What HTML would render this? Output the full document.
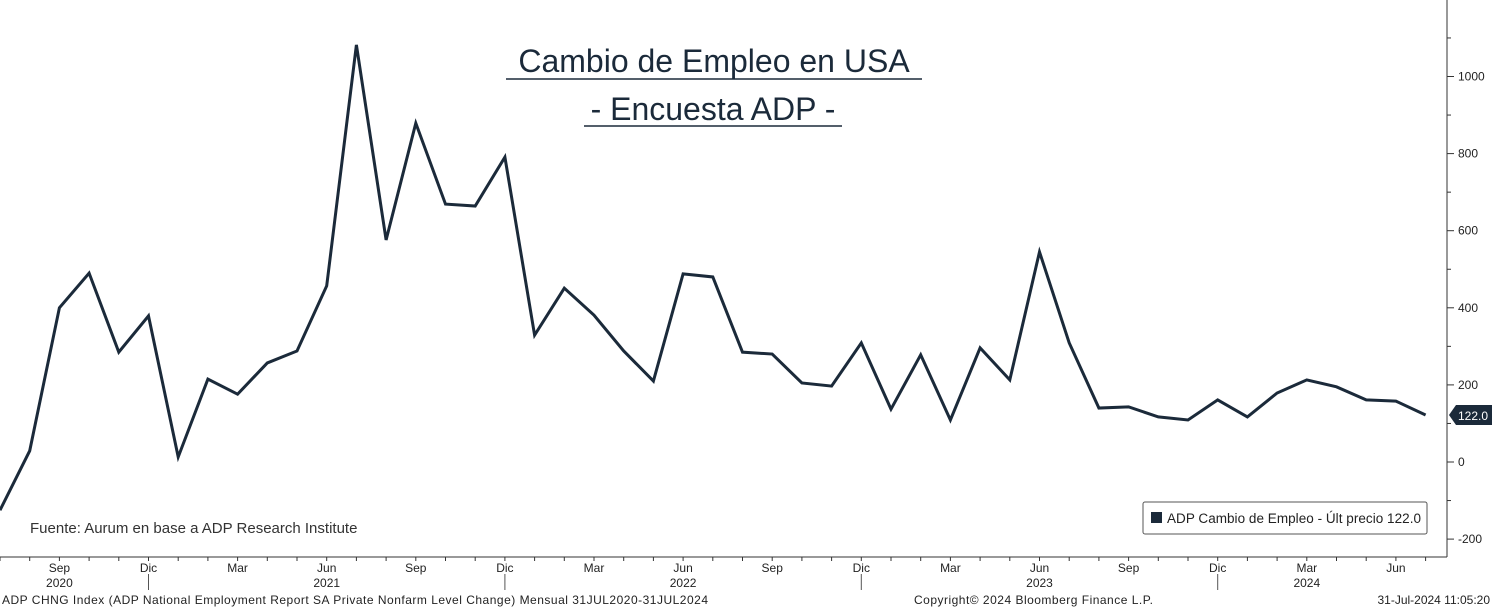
<!DOCTYPE html>
<html><head><meta charset="utf-8">
<style>
body{margin:0;background:#fff;width:1492px;height:609px;overflow:hidden;font-family:"Liberation Sans",sans-serif;}
svg{display:block}
</style></head>
<body>
<svg id="chart" width="1492" height="609" xmlns="http://www.w3.org/2000/svg">
<g id="title" font-family="Liberation Sans, sans-serif" fill="#1b2a3a" text-anchor="middle">
<text x="714" y="72" font-size="32">Cambio de Empleo en USA</text>
<line x1="506" y1="79" x2="922" y2="79" stroke="#1b2a3a" stroke-width="1.5"/>
<text x="713" y="120" font-size="32">- Encuesta ADP -</text>
<line x1="584" y1="126" x2="842" y2="126" stroke="#1b2a3a" stroke-width="1.5"/>
</g>
<text x="30" y="533" font-size="15" fill="#333">Fuente: Aurum en base a ADP Research Institute</text>
<g id="yaxis"></g>
<g id="xaxis"></g>
<g id="series"></g>
<g>
<rect x="1143" y="502" width="284" height="32" fill="#fff" stroke="#555" rx="2"/>
<rect x="1151" y="512" width="11" height="11" fill="#1b2a3a"/>
<text x="1167" y="523" font-size="13.5" fill="#222" textLength="254">ADP Cambio de Empleo - Últ precio 122.0</text>
</g>
<g font-size="12" fill="#222">
<text x="2" y="604" textLength="706">ADP CHNG Index (ADP National Employment Report SA Private Nonfarm Level Change)  Mensual 31JUL2020-31JUL2024</text>
<text x="914" y="604" textLength="239">Copyright© 2024 Bloomberg Finance L.P.</text>
<text x="1490" y="604" text-anchor="end">31-Jul-2024 11:05:20</text>
</g>
</svg>
<script>
const values=[-125,29,400,490,285,379,13,215,176,257,288,457,1082,576,879,669,664,791,329,451,381,288,210,488,480,285,280,205,197,309,137,278,109,296,213,545,309,140,143,117,109,161,117,179,213,195,161,158,122];
const yTicks=[-200,0,200,400,600,800,1000];
const monthLabels=[[2,"Sep"],[5,"Dic"],[8,"Mar"],[11,"Jun"],[14,"Sep"],[17,"Dic"],[20,"Mar"],[23,"Jun"],[26,"Sep"],[29,"Dic"],[32,"Mar"],[35,"Jun"],[38,"Sep"],[41,"Dic"],[44,"Mar"],[47,"Jun"]];
const yearLabels=[[2,"2020"],[11,"2021"],[23,"2022"],[35,"2023"],[44,"2024"]];
const yearBreaks=[5,17,29,41];
const lastLabel="122.0";
const NS="http://www.w3.org/2000/svg";
const X=i=>i*29.7;
const Y=v=>462-v*0.3855;
function mk(t,a,p){const e=document.createElementNS(NS,t);for(const k in a)e.setAttribute(k,a[k]);p.appendChild(e);return e;}
const ya=document.getElementById('yaxis'),xa=document.getElementById('xaxis'),se=document.getElementById('series');
let l=mk('line',{x1:1447,y1:0,x2:1447,y2:557,stroke:'#333'},ya);


for(let v=-200;v<=1100;v+=100){const t=mk('line',{x1:1447,x2:v%200===0?1454:1451,y1:Y(v),y2:Y(v),stroke:'#333'},ya);

}
yTicks.forEach(v=>{const t=mk('text',{x:1458,y:Y(v)+4,'font-size':12,fill:'#222'},ya);t.textContent=v;

});
l=mk('line',{x1:0,y1:557,x2:1447,y2:557,stroke:'#333'},xa);


for(let i=0;i<values.length;i++){const t=mk('line',{x1:X(i),x2:X(i),y1:557,y2:561,stroke:'#333'},xa);

}
yearBreaks.forEach(b=>{const t=mk('line',{x1:X(b),x2:X(b),y1:574,y2:590,stroke:'#555'},xa);

});
monthLabels.forEach(([i,s])=>{const t=mk('text',{x:X(i),y:572,'font-size':12,fill:'#222','text-anchor':'middle'},xa);t.textContent=s;

});
yearLabels.forEach(([i,s])=>{const t=mk('text',{x:X(i),y:587,'font-size':12,fill:'#222','text-anchor':'middle'},xa);t.textContent=s;

});
const p=mk('polyline',{points:values.map((v,i)=>X(i)+','+Y(v)).join(' '),fill:'none',stroke:'#1b2a3a','stroke-width':3,'stroke-linejoin':'miter'},se);


const ly=Y(values[values.length-1]);
const tag=mk('path',{d:`M1449 ${ly} L1456 ${ly-10} L1492 ${ly-10} L1492 ${ly+10} L1456 ${ly+10} Z`,fill:'#1b2a3a'},se);


const tt=mk('text',{x:1458,y:ly+5,'font-size':12,fill:'#fff'},se);tt.textContent=lastLabel;


</script>
</body></html>
